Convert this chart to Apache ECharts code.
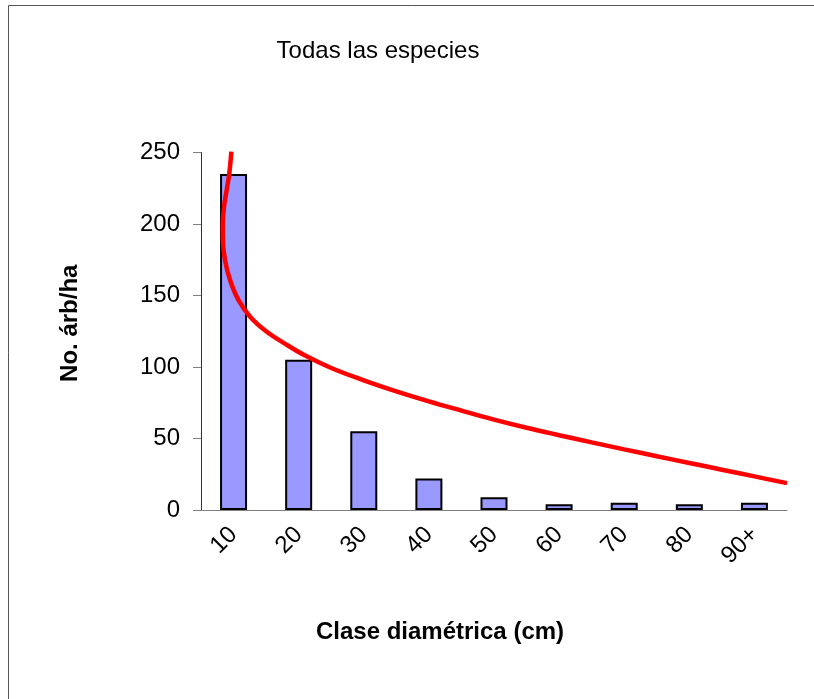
<!DOCTYPE html>
<html>
<head>
<meta charset="utf-8">
<style>
  html, body { margin: 0; padding: 0; background: #fff; }
  #chart { width: 814px; height: 699px; }
</style>
<script src="https://cdn.jsdelivr.net/npm/echarts@6/dist/echarts.min.js"></script>
</head>
<body>
<div id="chart"></div>
<script>
// Diameter classes and number of trees per hectare
const categories = ['10', '20', '30', '40', '50', '60', '70', '80', '90+'];
const treesPerHa = [235, 105, 55, 22, 9, 4, 5, 4, 5];

// Trend curve, x in class units (0 = left edge of first class), y in trees/ha
const trendX = [0.466, 0.435, 0.395, 0.354, 0.334, 0.336, 0.369, 0.446, 0.574, 0.754, 1.0, 1.3, 1.6, 2.0, 2.5, 3.0, 3.5, 4.0, 4.5, 5.0, 5.5, 6.0, 6.5, 7.0, 7.5, 8.0, 8.5, 9.0];
const trendY = [250.6, 235.5, 223.8, 212.1, 198.1, 188.8, 174.8, 160.8, 146.9, 135.2, 125.0, 116.0, 108.0, 99.3, 90.7, 83.0, 76.0, 69.5, 63.2, 57.5, 52.3, 47.3, 42.4, 37.6, 32.9, 28.2, 23.5, 18.8];

const yTicks = { min: 0, max: 250, interval: 50 };

const font = 'Liberation Sans, Arial, sans-serif';
const chart = echarts.init(document.getElementById('chart'), null, { renderer: 'canvas' });

chart.setOption({
  animation: false,
  backgroundColor: '#fff',
  graphic: [{
    type: 'rect',
    shape: { x: 8.5, y: 5.5, width: 900, height: 900 },
    style: { fill: 'none', stroke: '#555', lineWidth: 1 },
    silent: true
  }],
  title: {
    text: 'Todas las especies',
    left: 373, top: 34, textAlign: 'center',
    textStyle: { fontFamily: font, fontSize: 24, fontWeight: 'normal', color: '#000' }
  },
  grid: { left: 201, top: 152.5, right: 27, bottom: 189, containLabel: false },
  xAxis: [{
    type: 'category',
    data: categories,
    boundaryGap: true,
    name: 'Clase diamétrica (cm)',
    nameLocation: 'middle',
    nameGap: 110,
    nameTextStyle: { fontFamily: font, fontSize: 24, fontWeight: 'bold', color: '#000', padding: [0, 108, 0, 0] },
    axisLine: { lineStyle: { color: '#808080', width: 1 } },
    axisTick: { alignWithLabel: false, length: 6, lineStyle: { color: '#808080' } },
    axisLabel: { rotate: 45, margin: 21, fontFamily: font, fontSize: 24, color: '#000', interval: 0 },
    splitLine: { show: false }
  }, {
    type: 'value',
    min: 0, max: 9,
    show: false
  }],
  yAxis: {
    type: 'value',
    min: yTicks.min, max: yTicks.max, interval: yTicks.interval,
    name: 'No. árb/ha',
    nameLocation: 'middle',
    nameGap: 119,
    nameTextStyle: { fontFamily: font, fontSize: 24, fontWeight: 'bold', color: '#000', padding: [0, 0, 0, 16] },
    axisLine: { show: true, lineStyle: { color: '#333', width: 1 } },
    axisTick: { show: true, length: 8, lineStyle: { color: '#808080' } },
    axisLabel: { margin: 21, fontFamily: font, fontSize: 24, color: '#000' },
    splitLine: { show: false }
  },
  series: [{
    type: 'bar',
    xAxisIndex: 0,
    data: treesPerHa,
    barWidth: 27,
    itemStyle: { color: '#9999FF', borderColor: '#000', borderWidth: 2 },
    z: 2
  }, {
    type: 'line',
    xAxisIndex: 1,
    data: trendX.map((x, i) => [x, trendY[i]]),
    smooth: 0.4,
    showSymbol: false,
    symbol: 'none',
    lineStyle: { color: '#FF0000', width: 4.5 },
    clip: false,
    z: 3
  }]
});
</script>
</body>
</html>
